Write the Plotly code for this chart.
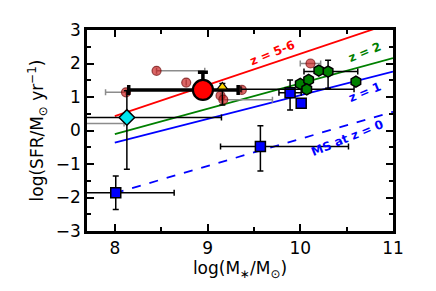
import plotly.graph_objects as go

# ---- data ----
# literature high-z galaxies (semi-transparent red circles, grey error bars)
lit_x = [8.45, 8.77, 8.12, 9.14, 9.17, 9.37, 10.11, 7.55]
lit_y = [1.78, 1.43, 1.14, 1.04, 0.92, 1.21, 2.00, 0.21]
lit_xerr_plus = [0.52, 0.0, 0.0, 0.0, 0.53, 0.0, 0.11, 0.55]
lit_xerr_minus = [0.0, 0.0, 0.22, 0.0, 0.0, 0.0, 0.11, 0.0]

# main object (big red circle)
main_x = [8.95]
main_y = [1.21]
main_xerr_plus = [0.38]
main_xerr_minus = [0.80]
main_yerr_plus = [0.53]
main_yerr_minus = [0.0]

# yellow triangle
tri_x = [9.16]
tri_y = [1.30]
tri_yerr_plus = [0.10]
tri_yerr_minus = [0.54]

# cyan diamond
dia_x = [8.13]
dia_y = [0.39]
dia_xerr = [1.02]
dia_yerr_plus = [0.80]
dia_yerr_minus = [1.55]

# blue squares
sq_x = [8.01, 9.57, 9.89, 10.01]
sq_y = [-1.86, -0.48, 1.13, 0.81]
sq_xerr_plus = [0.63, 0.95, 0.12, 0.0]
sq_xerr_minus = [0.63, 0.43, 0.12, 0.0]
sq_yerr_plus = [0.50, 0.62, 0.38, 0.0]
sq_yerr_minus = [0.50, 0.73, 0.52, 0.0]

# green hexagons
hex_x = [10.00, 10.09, 10.07, 10.20, 10.30, 10.60]
hex_y = [1.39, 1.51, 1.23, 1.79, 1.76, 1.46]
hex_xerr_plus = [0.0, 0.0, 0.51, 0.0, 0.32, 0.0]
hex_xerr_minus = [0.0, 0.0, 0.71, 0.0, 0.26, 0.0]
hex_yerr_plus = [0.0, 0.0, 0.0, 0.0, 0.34, 0.0]
hex_yerr_minus = [0.0, 0.0, 0.0, 0.0, 0.50, 0.0]

# main-sequence relations
ms_x = [8.0, 11.0]
ms_z56 = [0.43, 3.22]
ms_z2 = [-0.11, 2.16]
ms_z1 = [-0.36, 1.76]
ms_z0 = [-1.87, 0.56]

xticks = [8, 9, 10, 11]
yticks = [-3, -2, -1, 0, 1, 2, 3]

fig = go.Figure()

# lines
fig.add_trace(go.Scatter(x=ms_x, y=ms_z56, mode="lines", line=dict(color="#ff0000", width=1.8)))
fig.add_trace(go.Scatter(x=ms_x, y=ms_z2, mode="lines", line=dict(color="#008000", width=1.8)))
fig.add_trace(go.Scatter(x=ms_x, y=ms_z1, mode="lines", line=dict(color="#0000ff", width=1.8)))
fig.add_trace(go.Scatter(x=ms_x, y=ms_z0, mode="lines", line=dict(color="#0000ff", width=1.8, dash="dash")))

# literature points
fig.add_trace(go.Scatter(
    x=lit_x, y=lit_y, mode="markers",
    marker=dict(size=9, color="rgba(200,20,20,0.65)", line=dict(color="rgba(110,10,10,0.7)", width=1.2)),
    error_x=dict(type="data", symmetric=False, array=lit_xerr_plus, arrayminus=lit_xerr_minus,
                 color="#8c8c8c", thickness=1.5, width=3),
))

# thick error bars of main object
fig.add_trace(go.Scatter(
    x=main_x, y=main_y, mode="markers",
    marker=dict(size=20, color="#ff0000", line=dict(color="black", width=2.2)),
    error_x=dict(type="data", symmetric=False, array=main_xerr_plus, arrayminus=main_xerr_minus,
                 color="black", thickness=3.5, width=5),
    error_y=dict(type="data", symmetric=False, array=main_yerr_plus, arrayminus=main_yerr_minus,
                 color="black", thickness=3.5, width=5),
))

# triangle
fig.add_trace(go.Scatter(
    x=tri_x, y=tri_y, mode="markers",
    marker=dict(symbol="triangle-up", size=9, color="#ffd700", line=dict(color="black", width=1.2)),
    error_y=dict(type="data", symmetric=False, array=tri_yerr_plus, arrayminus=tri_yerr_minus,
                 color="black", thickness=1.5, width=3),
))

# diamond
fig.add_trace(go.Scatter(
    x=dia_x, y=dia_y, mode="markers",
    marker=dict(symbol="diamond", size=12, color="#00e5ee", line=dict(color="black", width=1.5)),
    error_x=dict(type="data", array=dia_xerr, color="black", thickness=1.5, width=3),
    error_y=dict(type="data", symmetric=False, array=dia_yerr_plus, arrayminus=dia_yerr_minus,
                 color="black", thickness=1.5, width=3),
))

# squares
fig.add_trace(go.Scatter(
    x=sq_x, y=sq_y, mode="markers",
    marker=dict(symbol="square", size=10, color="#0000ff", line=dict(color="black", width=1.5)),
    error_x=dict(type="data", symmetric=False, array=sq_xerr_plus, arrayminus=sq_xerr_minus,
                 color="black", thickness=1.5, width=3),
    error_y=dict(type="data", symmetric=False, array=sq_yerr_plus, arrayminus=sq_yerr_minus,
                 color="black", thickness=1.5, width=3),
))

# hexagons
fig.add_trace(go.Scatter(
    x=hex_x, y=hex_y, mode="markers",
    marker=dict(symbol="hexagon", size=11, color="#008000", line=dict(color="black", width=1.5)),
    error_x=dict(type="data", symmetric=False, array=hex_xerr_plus, arrayminus=hex_xerr_minus,
                 color="black", thickness=1.5, width=3),
    error_y=dict(type="data", symmetric=False, array=hex_yerr_plus, arrayminus=hex_yerr_minus,
                 color="black", thickness=1.5, width=3),
))

lab_font = dict(family="DejaVu Sans", size=12)
fig.add_annotation(x=9.70, y=2.30, text="<b>z = 5-6</b>", showarrow=False, textangle=-22,
                   font=dict(lab_font, color="#ff0000"))
fig.add_annotation(x=10.70, y=2.33, text="<b>z = 2</b>", showarrow=False, textangle=-22,
                   font=dict(lab_font, color="#008000"))
fig.add_annotation(x=10.70, y=1.15, text="<b>z = 1</b>", showarrow=False, textangle=-22,
                   font=dict(lab_font, color="#0000ff"))
fig.add_annotation(x=10.51, y=-0.22, text="<b>MS at z = 0</b>", showarrow=False, textangle=-22,
                   font=dict(lab_font, color="#0000ff"))

axis_common = dict(
    showline=True, linecolor="black", linewidth=2.5, mirror="allticks",
    ticks="inside", ticklen=7, tickwidth=1.5, tickcolor="black",
    showgrid=False, zeroline=False, automargin=False,
    tickfont=dict(family="DejaVu Sans", size=17, color="black"),
    minor=dict(ticks="inside", ticklen=4, tickwidth=1.5, tickcolor="black", dtick=0.5, showgrid=False),
)

# page body has an 8px default margin, so the figure is sized to fit the window
fig.update_layout(
    width=428, height=283,
    margin=dict(l=79, r=43, t=22, b=60, autoexpand=False),
    paper_bgcolor="white", plot_bgcolor="white",
    showlegend=False,
    xaxis=dict(axis_common, range=[7.7, 11.0], tickvals=xticks, ticktext=[str(v) for v in xticks],
               title=dict(text="log(M<sub>∗</sub>/M<sub>⊙</sub>)", standoff=4,
                          font=dict(family="DejaVu Sans", size=17, color="black"))),
    yaxis=dict(axis_common, range=[-3, 3], tickvals=yticks, ticktext=[("−" + str(-v)) if v < 0 else str(v) for v in yticks],
               title=dict(text="log(SFR/M<sub>⊙</sub> yr<sup>−1</sup>)", standoff=8,
                          font=dict(family="DejaVu Sans", size=17, color="black"))),
)

fig.write_html("out.html")
